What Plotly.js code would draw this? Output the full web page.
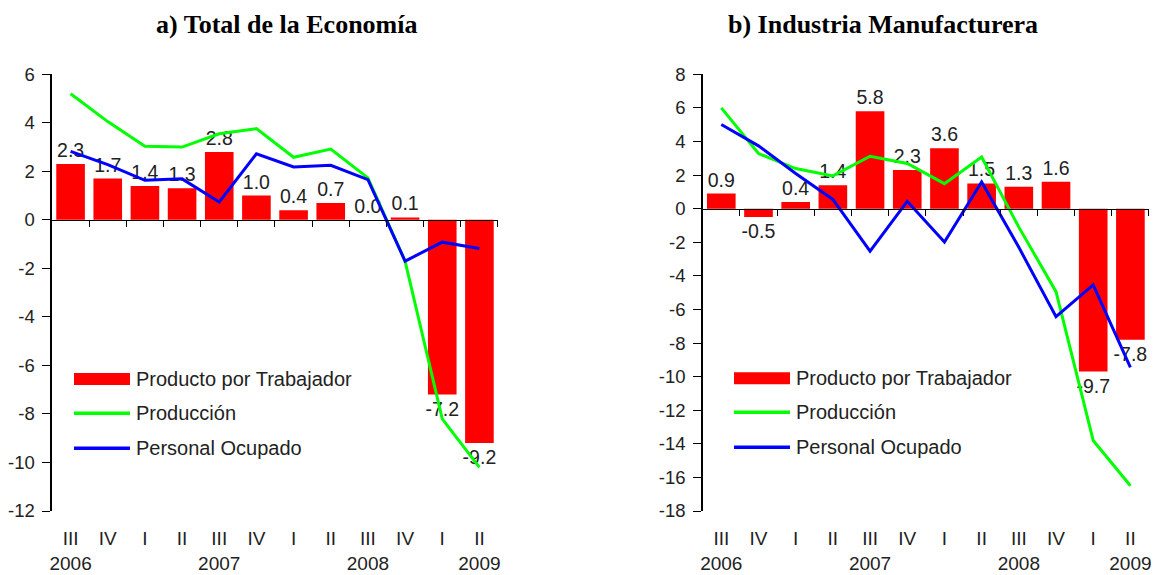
<!DOCTYPE html>
<html>
<head>
<meta charset="utf-8">
<script src="https://cdn.plot.ly/plotly-3.0.1.min.js"></script>
<style>html,body{margin:0;padding:0;background:#fff;}#chart{width:1155px;height:575px;}</style>
</head>
<body>
<div id="chart"></div>
<script>
// Quarters (x positions = category index)
const quarters = ["III","IV","I","II","III","IV","I","II","III","IV","I","II"];
const years = ["2006","","","","2007","","","","2008","","","2009"];

// a) Total de la Economía
const totalProducto = [2.3, 1.7, 1.4, 1.3, 2.8, 1.0, 0.4, 0.7, 0.0, 0.1, -7.2, -9.2];
const totalProduccion = [5.2, 4.05, 3.03, 3.0, 3.55, 3.76, 2.58, 2.92, 1.73, -1.7, -8.2, -10.2];
const totalPersonal = [2.82, 2.28, 1.63, 1.69, 0.74, 2.72, 2.18, 2.25, 1.66, -1.7, -0.92, -1.18];
const totalYTicks = [-12, -10, -8, -6, -4, -2, 0, 2, 4, 6];

// b) Industria Manufacturera
const manufProducto = [0.9, -0.5, 0.4, 1.4, 5.8, 2.3, 3.6, 1.5, 1.3, 1.6, -9.7, -7.8];
const manufProduccion = [6.0, 3.28, 2.39, 1.95, 3.12, 2.69, 1.49, 3.08, -1.1, -4.94, -13.8, -16.5];
const manufPersonal = [5.01, 3.74, 2.09, 0.55, -2.53, 0.44, -1.99, 1.59, -2.3, -6.43, -4.54, -9.45];
const manufYTicks = [-18, -16, -14, -12, -10, -8, -6, -4, -2, 0, 2, 4, 6, 8];

const seriesNames = ["Producto por Trabajador", "Producción", "Personal Ocupado"];

const idx = quarters.map((q, i) => i);
const tickText = quarters.map((q, i) => years[i] ? q + "<br>" + years[i] : q);
const boundaries = quarters.map((q, i) => i + 0.5);

const FONT = "Liberation Sans, Arial, sans-serif";
const RED = "#ff0000", GREEN = "#00ff00", BLUE = "#0000ff";

function barTrace(vals, xa, ya) {
  return {
    type: "bar", x: idx, y: vals, xaxis: xa, yaxis: ya, showlegend: false,
    name: seriesNames[0],
    marker: {color: RED, line: {width: 0}}, width: 0.77,
    text: vals.map(v => v.toFixed(1)),
    textposition: "outside", constraintext: "none", cliponaxis: false,
    textfont: {family: FONT, size: 19.5, color: "#222"},
    hoverinfo: "skip"
  };
}
function lineTrace(vals, name, color, xa, ya) {
  return {
    type: "scatter", mode: "lines", x: idx, y: vals, xaxis: xa, yaxis: ya, showlegend: false,
    name: name, line: {color: color, width: 3}, cliponaxis: false, hoverinfo: "skip"
  };
}

const data = [
  barTrace(totalProducto, "x", "y"),
  lineTrace(totalProduccion, seriesNames[1], GREEN, "x", "y"),
  lineTrace(totalPersonal, seriesNames[2], BLUE, "x", "y"),
  barTrace(manufProducto, "x2", "y2"),
  lineTrace(manufProduccion, seriesNames[1], GREEN, "x2", "y2"),
  lineTrace(manufPersonal, seriesNames[2], BLUE, "x2", "y2")
];

const yDom = [0.1113, 0.8708];
const tickFont = {family: FONT, size: 19, color: "#222"};
function catAxis(dom, anchor) {
  return {
    domain: dom, anchor: anchor, range: [-0.5, 11.5], tickmode: "array",
    tickvals: idx, ticktext: tickText, ticks: "", showgrid: false, zeroline: false,
    showline: false, tickfont: tickFont, ticklabelstandoff: 14, fixedrange: true
  };
}
function zeroAxis(over, pos) {
  return {
    overlaying: over, anchor: "free", position: pos, range: [-0.5, 11.5],
    tickmode: "array", tickvals: boundaries, ticks: "outside", ticklen: 6, tickwidth: 1,
    tickcolor: "#000", showticklabels: false, showline: true, linecolor: "#000", linewidth: 1.5,
    showgrid: false, zeroline: false, fixedrange: true
  };
}
function valAxis(range, anchor, ticks) {
  return {
    domain: yDom, anchor: anchor, range: range, tickmode: "array", tickvals: ticks,
    ticktext: ticks.map(String), ticks: "outside", ticklen: 8,
    tickcolor: "#000", showline: true, linecolor: "#000", linewidth: 1.5, showgrid: false,
    zeroline: false, tickfont: {family: FONT, size: 18.5, color: "#222"}, ticklabelstandoff: 4,
    fixedrange: true
  };
}

// Legend drawn as key (swatch + label) for each panel
const legendPanels = [
  {swX0: 74, swX1: 130, txtX: 134, rows: [379, 413.3, 448.3]},
  {swX0: 734, swX1: 790, txtX: 794, rows: [378.3, 412.3, 447.3]}
];
const W = 1155, H = 575;
const shapes = [], annotations = [];
legendPanels.forEach(p => {
  const colors = [RED, GREEN, BLUE];
  seriesNames.forEach((nm, k) => {
    const yc = p.rows[k];
    if (k === 0) {
      shapes.push({type: "rect", xref: "paper", yref: "paper", x0: p.swX0 / W, x1: p.swX1 / W,
        y0: 1 - (yc - 6) / H, y1: 1 - (yc + 6) / H, fillcolor: RED, line: {width: 0}});
    } else {
      shapes.push({type: "line", xref: "paper", yref: "paper", x0: p.swX0 / W, x1: p.swX1 / W,
        y0: 1 - yc / H, y1: 1 - yc / H, line: {color: colors[k], width: 3.5}});
    }
    annotations.push({text: nm, xref: "paper", yref: "paper", x: p.txtX / W, y: 1 - yc / H,
      xanchor: "left", yanchor: "middle", showarrow: false,
      font: {family: FONT, size: 20, color: "#222"}});
  });
});
annotations.push(
  {text: "<b>a) Total de la Economía</b>", xref: "paper", yref: "paper", x: 286 / W, y: 1 - 24 / H,
   xanchor: "center", yanchor: "middle", showarrow: false,
   font: {family: "Liberation Serif, Times New Roman, serif", size: 26, color: "#000"}},
  {text: "<b>b) Industria Manufacturera</b>", xref: "paper", yref: "paper", x: 883 / W, y: 1 - 24 / H,
   xanchor: "center", yanchor: "middle", showarrow: false,
   font: {family: "Liberation Serif, Times New Roman, serif", size: 26, color: "#000"}}
);

const layout = {
  width: W, height: H, margin: {l: 0, r: 0, t: 0, b: 0},
  paper_bgcolor: "#fff", plot_bgcolor: "rgba(0,0,0,0)",
  barmode: "overlay", showlegend: false,
  xaxis: catAxis([0.04502, 0.43117], "y"),
  yaxis: valAxis([-12, 6], "x", totalYTicks),
  xaxis2: catAxis([0.6084, 0.9948], "y2"),
  yaxis2: valAxis([-18, 8], "x2", manufYTicks),
  xaxis3: zeroAxis("x", 0.6176),
  xaxis4: zeroAxis("x2", 0.6371),
  shapes: shapes,
  annotations: annotations
};

// empty traces so the zero-line axes are drawn
data.push({type: "scatter", x: [], y: [], xaxis: "x3", yaxis: "y", showlegend: false, hoverinfo: "skip"});
data.push({type: "scatter", x: [], y: [], xaxis: "x4", yaxis: "y2", showlegend: false, hoverinfo: "skip"});

Plotly.newPlot("chart", data, layout, {staticPlot: true, displayModeBar: false});
</script>
</body>
</html>
